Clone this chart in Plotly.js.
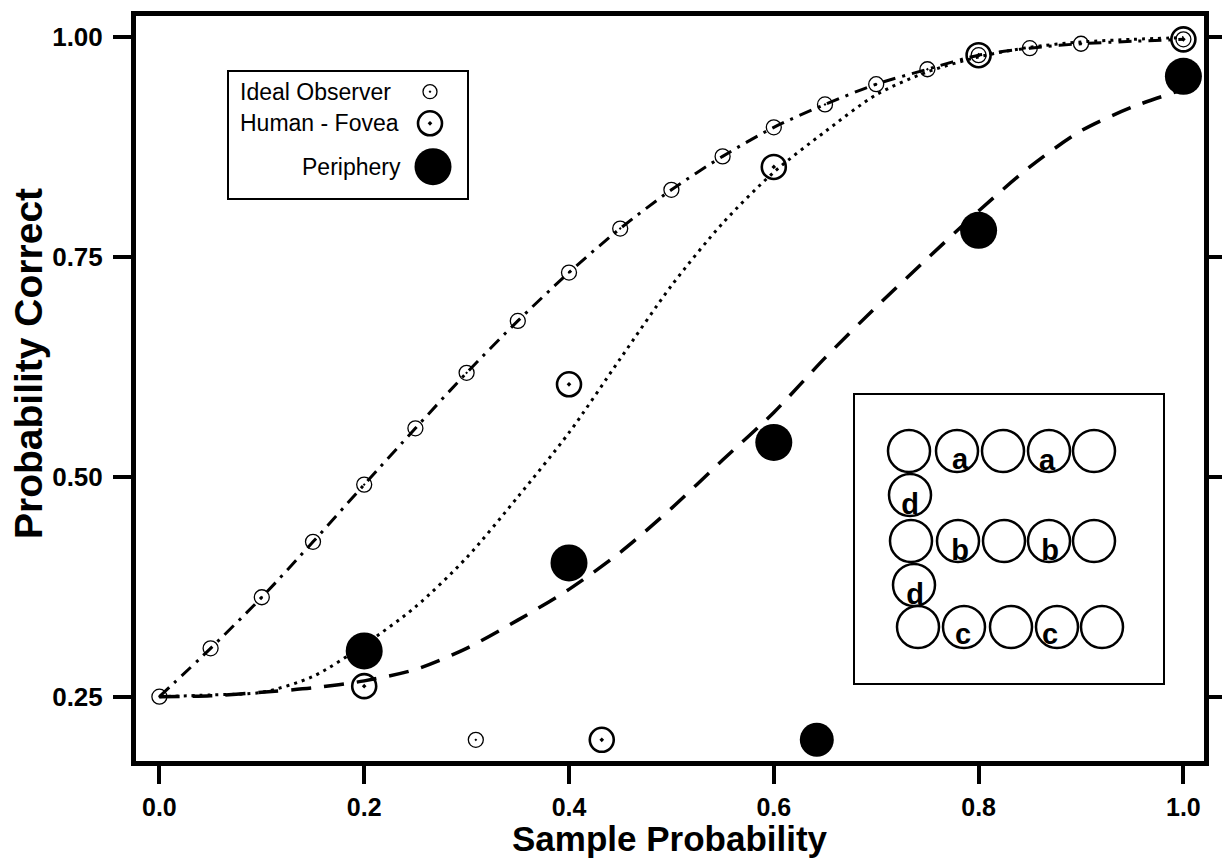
<!DOCTYPE html>
<html><head><meta charset="utf-8">
<script src="https://cdn.plot.ly/plotly-3.0.1.min.js"></script>
<style>html,body{margin:0;padding:0;background:#fff}#chart{width:1222px;height:858px}</style>
</head><body><div id="chart"></div>
<script>
// ---- data ----
const idealX = [0,0.05,0.10,0.15,0.20,0.25,0.30,0.35,0.40,0.45,0.50,0.55,0.60,0.65,0.70,0.75,0.80,0.85,0.90,1.00];
const idealY = [0.250,0.305,0.363,0.426,0.491,0.555,0.618,0.677,0.732,0.782,0.826,0.864,0.897,0.923,0.946,0.963,0.979,0.987,0.992,0.997];

const foveaX = [0.2,0.4,0.6,0.8,1.0];
const foveaY = [0.262,0.605,0.852,0.979,0.997];

const peripheryX = [0.2,0.4,0.6,0.8,1.0];
const peripheryY = [0.302,0.402,0.539,0.780,0.955];

const fitX = [0,0.05,0.10,0.15,0.20,0.25,0.30,0.35,0.40,0.45,0.50,0.55,0.60,0.65,0.70,0.75,0.80,0.85,0.90,0.95,1.00];
const foveaFitY = [0.250,0.252,0.255,0.273,0.309,0.352,0.408,0.477,0.550,0.634,0.717,0.788,0.846,0.892,0.934,0.960,0.977,0.988,0.994,0.997,0.999];
const peripheryFitY = [0.250,0.251,0.255,0.260,0.268,0.281,0.305,0.337,0.372,0.414,0.464,0.519,0.573,0.635,0.693,0.748,0.802,0.852,0.893,0.920,0.940];

// stray symbols near the bottom of the frame
const strayIdealX = [0.309], strayIdealY = [0.201];
const strayFoveaX = [0.432], strayFoveaY = [0.201];
const strayPeriphX = [0.642], strayPeriphY = [0.201];

const xTickVals = [0,0.2,0.4,0.6,0.8,1.0];
const xTickText = ['0.0','0.2','0.4','0.6','0.8','1.0'];
const yTickVals = [0.25,0.5,0.75,1.0];
const yTickText = ['0.25','0.50','0.75','1.00'];

// inset (letter stimulus) : circle centres and letters, in inset units
const insetCircleX = [54,102,148,194,239, 55, 56,103,149,194,239, 59, 63,109,156,202,247];
const insetCircleY = [56,56,56,56,56, 100, 146,146,146,146,146, 190, 232,232,232,232,232];
const insetLetterX = [105,192,55,105,195,60,108,195];
const insetLetterY = [67,68,112,158,158,202,242,242];
const insetLetters = ['a','a','d','b','b','d','c','c'];

// legend entries and axis titles
const legendNames = ['Ideal Observer','Human - Fovea','Periphery'];
const xTitle = 'Sample Probability';
const yTitle = 'Probability Correct';

// ---- figure ----
const BLACK = '#000';
const FONT = 'Liberation Sans, Arial, Helvetica, sans-serif';

const W = 1222, H = 858;
const M = {l:136, r:18, t:16, b:97};
const plotW = W - M.l - M.r, plotH = H - M.t - M.b;
function pdx(px){ return (px - M.l)/plotW; }
function pdy(py){ return (H - M.b - py)/plotH; }

const traces = [
  {x: idealX, y: idealY, mode:'lines', line:{color:BLACK, width:3, dash:'13px,7px,3px,7px', shape:'spline', smoothing:0.8}, hoverinfo:'skip'},
  {x: fitX, y: foveaFitY, mode:'lines', line:{color:BLACK, width:3, dash:'3px,5px', shape:'spline', smoothing:0.8}, hoverinfo:'skip'},
  {x: fitX, y: peripheryFitY, mode:'lines', line:{color:BLACK, width:3.5, dash:'20px,13px', shape:'spline', smoothing:0.8}, hoverinfo:'skip'},
  {x: idealX, y: idealY, mode:'markers', marker:{symbol:'circle-open-dot', size:15, color:BLACK, line:{color:BLACK, width:1.3}}},
  {x: foveaX, y: foveaY, mode:'markers', marker:{symbol:'circle-open-dot', size:24, color:BLACK, line:{color:BLACK, width:2.6}}},
  {x: peripheryX, y: peripheryY, mode:'markers', marker:{symbol:'circle', size:37, color:BLACK, line:{width:0}}},
  {x: strayIdealX, y: strayIdealY, mode:'markers', marker:{symbol:'circle-open-dot', size:15, color:BLACK, line:{color:BLACK, width:1.3}}},
  {x: strayFoveaX, y: strayFoveaY, mode:'markers', marker:{symbol:'circle-open-dot', size:24, color:BLACK, line:{color:BLACK, width:2.6}}},
  {x: strayPeriphX, y: strayPeriphY, mode:'markers', marker:{symbol:'circle', size:34, color:BLACK, line:{width:0}}},
  // inset
  {x: insetCircleX, y: insetCircleY, xaxis:'x2', yaxis:'y2', mode:'markers', marker:{symbol:'circle-open', size:42, color:BLACK, line:{color:BLACK, width:2.5}}},
  {x: insetLetterX, y: insetLetterY, xaxis:'x2', yaxis:'y2', mode:'text', text: insetLetters, textposition:'middle center', textfont:{family:FONT, size:29, weight:'bold', color:BLACK}},
  // legend symbols
  {x: [201], y: [19.7], xaxis:'x3', yaxis:'y3', mode:'markers', marker:{symbol:'circle-open-dot', size:14, color:BLACK, line:{color:BLACK, width:1.3}}},
  {x: [201], y: [51.3], xaxis:'x3', yaxis:'y3', mode:'markers', marker:{symbol:'circle-open-dot', size:24, color:BLACK, line:{color:BLACK, width:2.6}}},
  {x: [204], y: [94.7], xaxis:'x3', yaxis:'y3', mode:'markers', marker:{symbol:'circle', size:37, color:BLACK, line:{width:0}}}
];

const hiddenAxis = {showgrid:false, zeroline:false, showticklabels:false, ticks:'', showline:true, mirror:true, linecolor:BLACK, linewidth:2, fixedrange:true};

const layout = {
  width: W, height: H,
  margin: M,
  paper_bgcolor:'#fff', plot_bgcolor:'#fff',
  showlegend:false,
  font:{family:FONT, color:BLACK},
  xaxis:{
    range:[(M.l-159.4)/1024, (W-M.r-159.4)/1024], domain:[0,1],
    showline:true, linewidth:5, linecolor:BLACK, mirror:true,
    ticks:'outside', ticklen:18, tickwidth:4, tickcolor:BLACK,
    tickvals:xTickVals, ticktext:xTickText, ticklabelstandoff:2,
    tickfont:{family:FONT, size:25, weight:'bold', color:BLACK},
    showgrid:false, zeroline:false, automargin:false
  },
  yaxis:{
    range:[0.25-(H-M.b-696.7)/880, 1+(36.7-M.t)/880], domain:[0,1],
    showline:true, linewidth:5, linecolor:BLACK, mirror:'ticks',
    ticks:'outside', ticklen:18, tickwidth:4, tickcolor:BLACK,
    tickvals:yTickVals, ticktext:yTickText, ticklabelstandoff:5,
    tickfont:{family:FONT, size:26, weight:'bold', color:BLACK},
    showgrid:false, zeroline:false, automargin:false
  },
  xaxis2: Object.assign({}, hiddenAxis, {domain:[pdx(855), pdx(1163)], range:[0,308], anchor:'y2'}),
  yaxis2: Object.assign({}, hiddenAxis, {domain:[pdy(683), pdy(395)], range:[288,0], anchor:'x2'}),
  xaxis3: Object.assign({}, hiddenAxis, {domain:[pdx(229), pdx(467)], range:[0,238], anchor:'y3'}),
  yaxis3: Object.assign({}, hiddenAxis, {domain:[pdy(198), pdy(72)], range:[126,0], anchor:'x3'}),
  annotations:[
    {xref:'paper', yref:'paper', x:pdx(670), y:pdy(839), text:xTitle, showarrow:false, xanchor:'center', yanchor:'middle', font:{family:FONT, size:35, weight:'bold', color:BLACK}},
    {xref:'paper', yref:'paper', x:pdx(28), y:pdy(364), text:yTitle, textangle:-90, showarrow:false, xanchor:'center', yanchor:'middle', font:{family:FONT, size:39, weight:'bold', color:BLACK}},
    {xref:'x3', yref:'y3', x:8.7, y:19.7, text:legendNames[0], showarrow:false, xanchor:'left', yanchor:'middle', font:{family:FONT, size:23, color:BLACK}},
    {xref:'x3', yref:'y3', x:8.7, y:51.3, text:legendNames[1], showarrow:false, xanchor:'left', yanchor:'middle', font:{family:FONT, size:23, color:BLACK}},
    {xref:'x3', yref:'y3', x:174, y:94.7, text:legendNames[2], showarrow:false, xanchor:'right', yanchor:'middle', font:{family:FONT, size:23, color:BLACK}}
  ]
};

Plotly.newPlot('chart', traces, layout, {staticPlot:true, displayModeBar:false});
</script></body></html>
